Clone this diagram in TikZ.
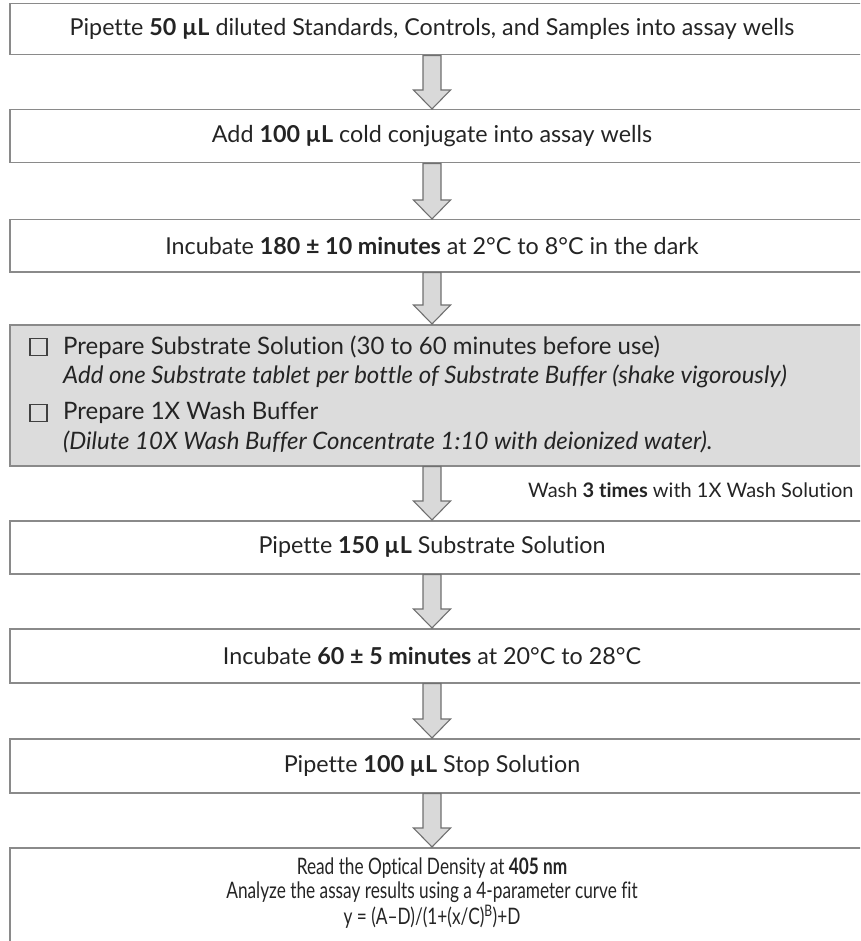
\documentclass[tikz,border=0pt]{standalone}
\usepackage{fontspec}
\setmainfont{Lato}[Ligatures=NoCommon]
\newfontfamily\condfont{Lato}[FakeStretch=0.76,Ligatures=NoCommon]
\usetikzlibrary{calc}
\definecolor{boxline}{HTML}{8A8A8A}
\definecolor{txtc}{HTML}{242424}
\definecolor{grayfill}{HTML}{DCDCDC}
\definecolor{arrfill}{HTML}{D9D9D9}
\definecolor{arrline}{HTML}{707070}
\newcommand\blockarr[2]{%
  \path (#1) coordinate (as) (#2) coordinate (ae);
  \draw[arrowbody] ([xshift=-9pt]as) -- ([xshift=-9pt,yshift=19pt]ae)
    -- ([xshift=-18.5pt,yshift=19pt]ae) -- (ae)
    -- ([xshift=18.5pt,yshift=19pt]ae) -- ([xshift=9pt,yshift=19pt]ae)
    -- ([xshift=9pt]as) -- cycle;}
\begin{document}
\begin{tikzpicture}[x=1pt,y=-1pt,
  box/.style={draw=boxline, line width=1.5pt, minimum width=880pt, anchor=north west, inner sep=0pt},
  graybox/.style={box, fill=grayfill},
  txt/.style={text=txtc, inner sep=0pt, font=\fontsize{23.3}{28}\selectfont},
  ltxt/.style={text=txtc, inner sep=0pt, anchor=west, font=\fontsize{24}{28}\selectfont},
  washtxt/.style={text=txtc, inner sep=0pt, anchor=west, font=\fontsize{20}{24}\selectfont},
  lasttxt/.style={text=txtc, inner sep=0pt, font=\condfont\fontsize{22.7}{26}\selectfont},
  chk/.style={draw=black!75, line width=1.5pt, minimum size=17pt, inner sep=0pt},
  arrowbody/.style={draw=arrline, fill=arrfill, line width=1.1pt, line join=miter}]
\useasboundingbox (0,0) rectangle (860,941);
\clip (0,0) rectangle (860,941);
\coordinate (ax) at (432,0);
% boxes
\node[box, minimum height=51pt] (b1) at (9,3) {};
\node[box, minimum height=53pt] (b2) at (9,109) {};
\node[box, minimum height=52pt] (b3) at (9,219) {};
\node[graybox, minimum height=141pt] (b4) at (9,324) {};
\node[box, minimum height=53pt] (b5) at (9,520) {};
\node[box, minimum height=54pt] (b6) at (9,628) {};
\node[box, minimum height=54pt] (b7) at (9,738) {};
\node[box, minimum height=110pt] (b8) at (9,847) {};
% texts
\node[txt] (t1) at (ax |- b1.center) {Pipette \textbf{50 µL} diluted Standards, Controls, and Samples into assay wells};
\node[txt] (t2) at (ax |- b2.center) {Add \textbf{100 µL} cold conjugate into assay wells};
\node[txt] (t3) at (ax |- b3.center) {Incubate \textbf{180 ± 10 minutes} at 2°C to 8°C in the dark};
\node[chk] (c1) at (38.5,347) {};
\node[ltxt] (g1) at (63,347) {Prepare Substrate Solution (30 to 60 minutes before use)};
\node[ltxt] (g2) at (63,376) {\itshape Add one Substrate tablet per bottle of Substrate Buffer (shake vigorously)};
\node[chk] (c2) at (38.5,413) {};
\node[ltxt] (g3) at (63,413) {Prepare 1X Wash Buffer};
\node[ltxt] (g4) at (63,442) {\itshape (Dilute 10X Wash Buffer Concentrate 1:10 with deionized water).};
\node[washtxt] (w) at (528,490) {Wash \textbf{3 times} with 1X Wash Solution};
\node[txt] (t5) at (ax |- b5.center) {Pipette \textbf{150 µL} Substrate Solution};
\node[txt] (t6) at (ax |- b6.center) {Incubate \textbf{60 ± 5 minutes} at 20°C to 28°C};
\node[txt] (t7) at (ax |- b7.center) {Pipette \textbf{100 µL} Stop Solution};
\node[lasttxt] (l1) at (432,868) {Read the Optical Density at \textbf{405 nm}};
\node[lasttxt] (l2) at (432,892) {Analyze the assay results using a 4-parameter curve fit};
\node[lasttxt] (l3) at (432,917) {y = (A–D)/(1+(x/C)\textsuperscript{B})+D};
% arrows
\blockarr{b1.south -| ax}{b2.north -| ax}
\blockarr{b2.south -| ax}{b3.north -| ax}
\blockarr{b3.south -| ax}{b4.north -| ax}
\blockarr{b4.south -| ax}{b5.north -| ax}
\blockarr{b5.south -| ax}{b6.north -| ax}
\blockarr{b6.south -| ax}{b7.north -| ax}
\blockarr{b7.south -| ax}{b8.north -| ax}
\end{tikzpicture}
\end{document}
